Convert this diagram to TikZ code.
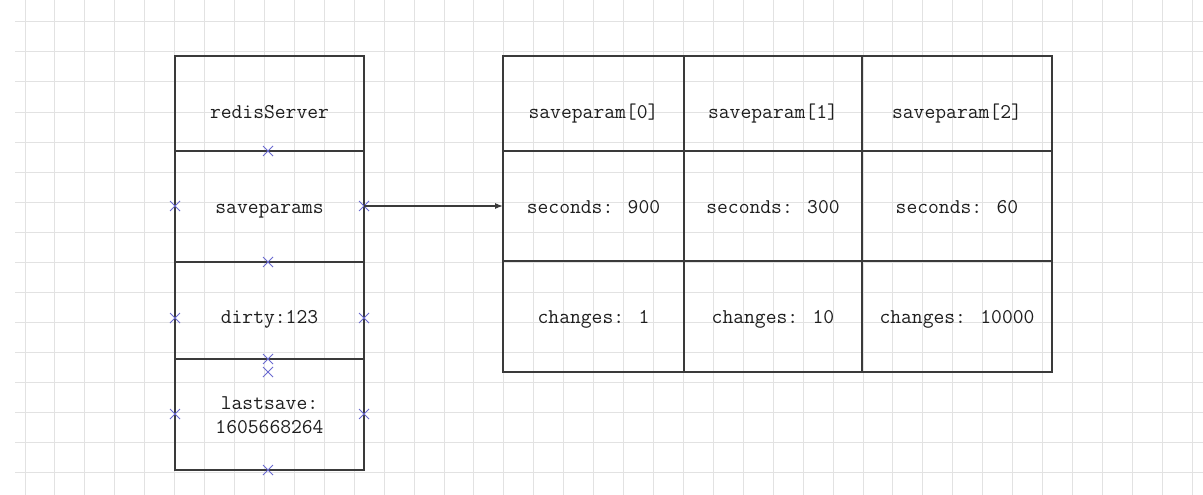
\documentclass[tikz,border=0pt]{standalone}
\usetikzlibrary{arrows.meta}
\definecolor{gridc}{HTML}{E2E2E2}
\definecolor{boxc}{HTML}{3A3A3A}
\definecolor{mk}{HTML}{6A6AD0}
\definecolor{txtc}{HTML}{1E1E1E}
\begin{document}
\begin{tikzpicture}[x=1pt,y=-1pt,
  gridline/.style={draw=gridc,line width=1pt},
  cell/.style={draw=boxc,line width=1.2pt,anchor=north west,inner sep=0pt,outer sep=0pt},
  txt/.style={text=txtc,font=\ttfamily\fontsize{21}{24}\selectfont,inner sep=0pt,align=center,anchor=base},
  cpmark/.style={draw=mk,line width=1pt},
  arr/.style={draw=boxc,line width=1.1pt,-{Latex[length=8pt,width=6pt]}}]
\fill[white] (0,0) rectangle (1203,495);
\useasboundingbox (0,0) rectangle (1203,495);
% grid
\foreach \i in {0,...,39} \draw[gridline] ({25+29.93*\i},0) -- ({25+29.93*\i},495);
\foreach \j in {0,...,15} \draw[gridline] (15,{22+30*\j}) -- (1203,{22+30*\j});
% left structure
\node[cell,minimum width=189pt,minimum height=95pt]  (rs) at (175,56) {};
\node[cell,minimum width=189pt,minimum height=111pt] (sp) at (175,151) {};
\node[cell,minimum width=189pt,minimum height=97pt]  (dt) at (175,262) {};
\node[cell,minimum width=189pt,minimum height=111pt] (ls) at (175,359) {};
\node[txt] (trs) at (269.5,118) {redisServer};
\node[txt] (tsp) at (269.5,213) {saveparams};
\node[txt] (tdt) at (269.5,323) {dirty:123};
\node[txt,anchor=center] (tls) at (269.5,415) {lastsave:\\1605668264};
% right table
\foreach \c/\x/\w in {0/503/181,1/684/178,2/862/190}{
  \node[cell,minimum width=\w pt,minimum height=95pt]  (h\c) at (\x,56) {};
  \node[cell,minimum width=\w pt,minimum height=110pt] (s\c) at (\x,151) {};
  \node[cell,minimum width=\w pt,minimum height=111pt] (g\c) at (\x,261) {};
}
\node[txt] (th0) at (h0.center |- 0,118) {saveparam[0]};
\node[txt] (th1) at (h1.center |- 0,118) {saveparam[1]};
\node[txt] (th2) at (h2.center |- 0,118) {saveparam[2]};
\node[txt] (ts0) at (s0.center |- 0,213) {seconds: 900};
\node[txt] (ts1) at (s1.center |- 0,213) {seconds: 300};
\node[txt] (ts2) at (s2.center |- 0,213) {seconds: 60};
\node[txt] (tg0) at (g0.center |- 0,323) {changes: 1};
\node[txt] (tg1) at (g1.center |- 0,323) {changes: 10};
\node[txt] (tg2) at (g2.center |- 0,323) {changes: 10000};
% connection markers
\coordinate (m1)  at (268,151);
\coordinate (m2)  at (175,206);
\coordinate (m3)  at (364,206);
\coordinate (m4)  at (268,262);
\coordinate (m5)  at (175,318);
\coordinate (m6)  at (364,318);
\coordinate (m7)  at (268,359);
\coordinate (m8)  at (268,372);
\coordinate (m9)  at (175,414);
\coordinate (m10) at (364,414);
\coordinate (m11) at (268,470);
\foreach \m in {m1,m2,m3,m4,m5,m6,m7,m8,m9,m10,m11}
  \draw[cpmark] ([shift={(-5,-5)}]\m) -- ([shift={(5,5)}]\m)
                ([shift={(-5,5)}]\m) -- ([shift={(5,-5)}]\m);
% arrow
\draw[arr] (m3) -- (s0.west);
\end{tikzpicture}
\end{document}
